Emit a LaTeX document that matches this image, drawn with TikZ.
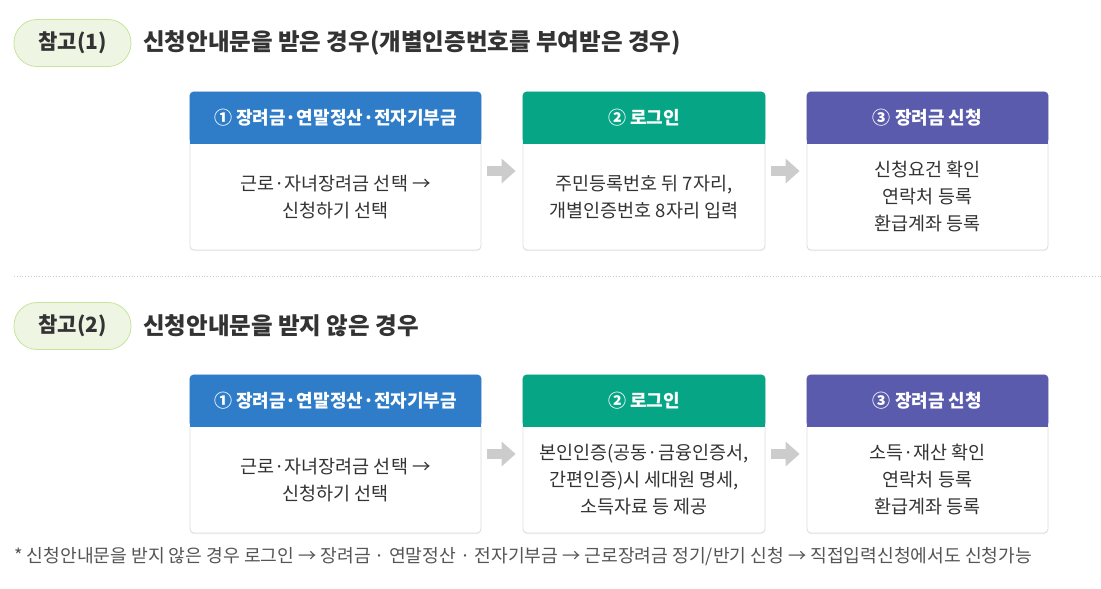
\documentclass[tikz,border=0pt]{standalone}
\usepackage{fontspec}
\setmainfont{Noto Sans CJK KR}
\usetikzlibrary{arrows.meta,shadows}

\definecolor{ttext}{HTML}{333333}
\definecolor{ftext}{HTML}{555555}
\definecolor{pillfill}{HTML}{EEF6E3}
\definecolor{pillline}{HTML}{C6E59C}
\definecolor{hblue}{HTML}{2F7DC8}
\definecolor{hgreen}{HTML}{05A586}
\definecolor{hpurple}{HTML}{5A5BAD}
\definecolor{boxline}{HTML}{DDDDDD}
\definecolor{arrowgray}{HTML}{CCCCCC}

\tikzset{
  pill/.style={draw=pillline, fill=pillfill, line width=0.8pt, rounded corners=23pt,
    minimum width=117pt, minimum height=47pt, inner sep=0pt, text=ttext,
    font=\fontsize{21}{22}\selectfont\bfseries},
  titletext/.style={anchor=west, inner sep=0pt, text=ttext,
    font=\fontsize{23.5}{25}\selectfont\bfseries},
  stepbox/.style={draw=boxline, fill=white, line width=0.8pt, rounded corners=4pt,
    minimum height=158pt, inner sep=0pt,
    drop shadow={shadow xshift=0pt, shadow yshift=-1pt, opacity=0.12}},
  headtext/.style={text=white, inner sep=0pt, font=\fontsize{18}{20}\selectfont\bfseries},
  bodytext/.style={text=ttext, inner sep=0pt, align=center,
    font=\fontsize{18.5}{27}\selectfont},
  flowarrow/.style={draw=arrowgray, line width=10pt, shorten <=6pt, shorten >=7pt,
    -{Triangle[length=14pt,width=24pt]}},
}

\begin{document}
\begin{tikzpicture}[x=1pt,y=-1pt]
\useasboundingbox[fill=white] (0,0) rectangle (1101,589);

% ---- case 1
\node[pill] (p1) at (72.5,43) {참고(1)};
\node[titletext] (t1) at (143,43) {신청안내문을 받은 경우(개별인증번호를 부여받은 경우)};

\node[stepbox, minimum width=291pt] (s11) at (335.5,171) {};
\node[stepbox, minimum width=242pt] (s12) at (644,171) {};
\node[stepbox, minimum width=241pt] (s13) at (927.5,171) {};

\fill[hblue, rounded corners=4pt] (s11.north west) rectangle ([yshift=-52pt]s11.north east);
\fill[hblue] ([yshift=-26pt]s11.north west) rectangle ([yshift=-52pt]s11.north east);
\fill[hgreen, rounded corners=4pt] (s12.north west) rectangle ([yshift=-52pt]s12.north east);
\fill[hgreen] ([yshift=-26pt]s12.north west) rectangle ([yshift=-52pt]s12.north east);
\fill[hpurple, rounded corners=4pt] (s13.north west) rectangle ([yshift=-52pt]s13.north east);
\fill[hpurple] ([yshift=-26pt]s13.north west) rectangle ([yshift=-52pt]s13.north east);

\node[headtext] (h11) at ([yshift=-26pt]s11.north) {① 장려금·연말정산·전자기부금};
\node[headtext] (h12) at ([yshift=-26pt]s12.north) {② 로그인};
\node[headtext] (h13) at ([yshift=-26pt]s13.north) {③ 장려금 신청};

\node[bodytext] (b11) at ([yshift=-26pt]s11.center) {근로·자녀장려금 선택 →\\신청하기 선택};
\node[bodytext] (b12) at ([yshift=-26pt]s12.center) {주민등록번호 뒤 7자리,\\개별인증번호 8자리 입력};
\node[bodytext] (b13) at ([yshift=-26pt]s13.center) {신청요건 확인\\연락처 등록\\환급계좌 등록};

\draw[flowarrow] (s11.east) -- (s12.west);
\draw[flowarrow] (s12.east) -- (s13.west);

% separator
\coordinate (sepL) at (14,276);
\coordinate (sepR) at (1101,276);
\draw[arrowgray, line width=0.8pt, dotted] (sepL) -- (sepR);

% ---- case 2
\node[pill] (p2) at (72.5,326) {참고(2)};
\node[titletext] (t2) at (143,326) {신청안내문을 받지 않은 경우};

\node[stepbox, minimum width=291pt] (s21) at (335.5,454) {};
\node[stepbox, minimum width=242pt] (s22) at (644,454) {};
\node[stepbox, minimum width=241pt] (s23) at (927.5,454) {};

\fill[hblue, rounded corners=4pt] (s21.north west) rectangle ([yshift=-52pt]s21.north east);
\fill[hblue] ([yshift=-26pt]s21.north west) rectangle ([yshift=-52pt]s21.north east);
\fill[hgreen, rounded corners=4pt] (s22.north west) rectangle ([yshift=-52pt]s22.north east);
\fill[hgreen] ([yshift=-26pt]s22.north west) rectangle ([yshift=-52pt]s22.north east);
\fill[hpurple, rounded corners=4pt] (s23.north west) rectangle ([yshift=-52pt]s23.north east);
\fill[hpurple] ([yshift=-26pt]s23.north west) rectangle ([yshift=-52pt]s23.north east);

\node[headtext] (h21) at ([yshift=-26pt]s21.north) {① 장려금·연말정산·전자기부금};
\node[headtext] (h22) at ([yshift=-26pt]s22.north) {② 로그인};
\node[headtext] (h23) at ([yshift=-26pt]s23.north) {③ 장려금 신청};

\node[bodytext] (b21) at ([yshift=-26pt]s21.center) {근로·자녀장려금 선택 →\\신청하기 선택};
\node[bodytext] (b22) at ([yshift=-26pt]s22.center) {본인인증(공동·금융인증서,\\간편인증)시 세대원 명세,\\소득자료 등 제공};
\node[bodytext] (b23) at ([yshift=-26pt]s23.center) {소득·재산 확인\\연락처 등록\\환급계좌 등록};

\draw[flowarrow] (s21.east) -- (s22.west);
\draw[flowarrow] (s22.east) -- (s23.west);

% footnote
\node[anchor=west, inner sep=0pt, text=ftext, font=\fontsize{18.2}{19}\selectfont] (fn) at (14,557)
  {* 신청안내문을 받지 않은 경우 로그인 → 장려금 · 연말정산 · 전자기부금 → 근로장려금 정기/반기 신청 → 직접입력신청에서도 신청가능};
\end{tikzpicture}
\end{document}
